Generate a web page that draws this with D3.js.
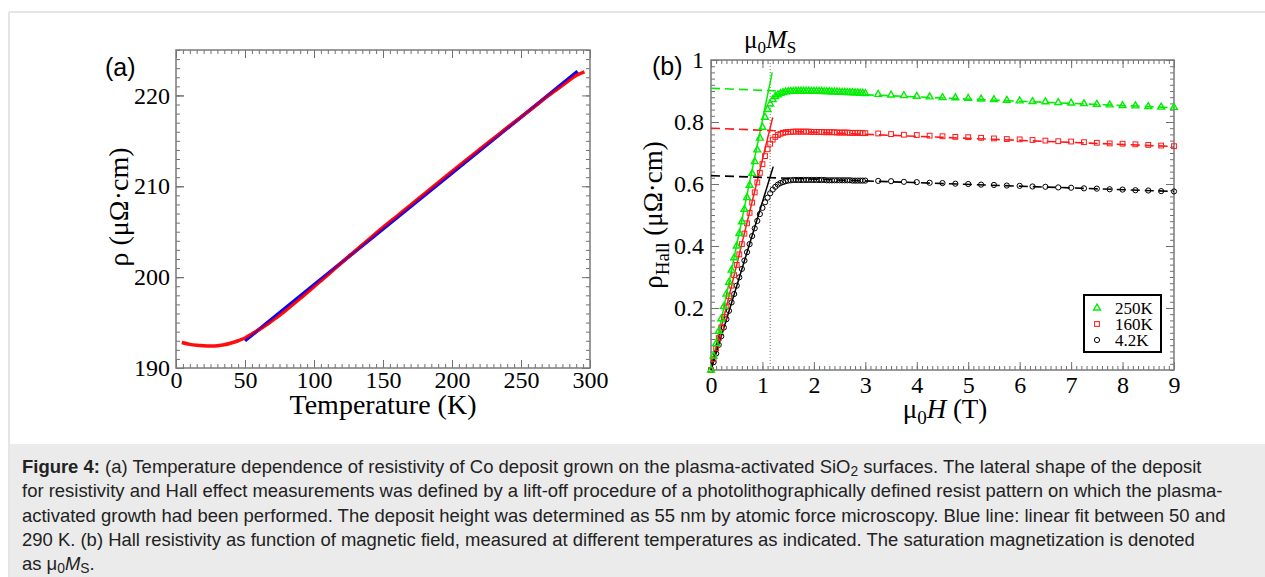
<!DOCTYPE html>
<html><head><meta charset="utf-8">
<script src="https://cdn.jsdelivr.net/npm/d3@7"></script>
<style>body{margin:0;background:#fff;} svg{display:block;}</style>
</head><body>
<script>
// ---------- Panel (a) data ----------
const tempK   = [4.2,10,15,20,25,30,35,40,45,50,55,60,65,70,75,80,90,100,110,120,130,140,150,160,170,180,190,200,210,220,230,240,250,260,270,280,290,296];
const rhoMeas = [192.8,192.6,192.5,192.45,192.43,192.45,192.55,192.75,193.0,193.3,193.75,194.2,194.7,195.25,195.8,196.4,197.65,198.95,200.25,201.6,202.9,204.2,205.47,206.7,207.93,209.17,210.4,211.63,212.85,214.05,215.25,216.45,217.62,218.8,220.0,221.1,222.2,222.6];
const fitT    = [50, 291];
const fitRho  = [193.0, 222.65];
const xTicksA = [0,50,100,150,200,250,300];
const yTicksA = [190,200,210,220];

// ---------- Panel (b) data ----------
const fieldLow  = [0,0.05,0.1,0.15,0.2,0.25,0.3,0.35,0.4,0.45,0.5,0.55,0.6,0.65,0.7,0.75,0.8,0.85,0.9,0.95,1.0];
const fieldKnee = [1.05,1.1,1.15,1.2,1.25,1.3,1.35,1.4,1.45,1.5,1.55,1.6,1.65,1.7,1.75,1.8,1.85,1.9,1.95,2.0,2.05,2.1,2.15,2.2,2.25,2.3,2.35,2.4,2.45,2.5,2.55,2.6,2.65,2.7,2.75,2.8,2.85,2.9,2.95,3.0];
const fieldHigh = [3.25,3.5,3.75,4,4.25,4.5,4.75,5,5.25,5.5,5.75,6,6.25,6.5,6.75,7,7.25,7.5,7.75,8,8.25,8.5,8.75,9];

const g250Low  = [0,0.045,0.085,0.125,0.165,0.205,0.245,0.283,0.322,0.362,0.4,0.44,0.478,0.518,0.556,0.596,0.634,0.672,0.71,0.748,0.783];
const g250Knee = [0.815,0.84,0.858,0.872,0.882,0.888,0.892,0.895,0.897,0.898,0.899,0.899,0.9,0.9,0.9,0.9,0.9,0.9,0.899,0.899,0.899,0.899,0.899,0.898,0.898,0.898,0.897,0.897,0.897,0.896,0.896,0.896,0.895,0.895,0.895,0.894,0.894,0.893,0.893,0.892];
const g250High = [0.889,0.887,0.885,0.883,0.881,0.879,0.878,0.876,0.874,0.872,0.870,0.868,0.866,0.865,0.863,0.861,0.859,0.857,0.855,0.853,0.852,0.850,0.848,0.847];

const r160Low  = [0,0.035,0.07,0.103,0.137,0.171,0.205,0.238,0.272,0.306,0.339,0.373,0.406,0.44,0.473,0.507,0.54,0.573,0.605,0.636,0.664];
const r160Knee = [0.69,0.712,0.73,0.743,0.752,0.758,0.762,0.765,0.767,0.768,0.768,0.769,0.769,0.769,0.769,0.769,0.769,0.769,0.768,0.768,0.768,0.768,0.768,0.767,0.767,0.767,0.767,0.767,0.766,0.766,0.766,0.766,0.766,0.765,0.765,0.765,0.765,0.765,0.764,0.764];
const r160High = [0.763,0.761,0.759,0.758,0.756,0.754,0.752,0.751,0.749,0.747,0.745,0.744,0.742,0.740,0.738,0.737,0.735,0.733,0.731,0.730,0.728,0.726,0.724,0.722];

const k42Low   = [0,0.025,0.053,0.081,0.109,0.137,0.164,0.191,0.218,0.245,0.272,0.299,0.326,0.353,0.38,0.406,0.432,0.457,0.481,0.503,0.523];
const k42Knee  = [0.541,0.556,0.57,0.582,0.591,0.598,0.603,0.606,0.609,0.611,0.612,0.613,0.613,0.613,0.613,0.613,0.613,0.613,0.613,0.613,0.613,0.613,0.613,0.613,0.612,0.612,0.612,0.612,0.612,0.612,0.612,0.612,0.612,0.612,0.611,0.611,0.611,0.611,0.611,0.611];
const k42High  = [0.610,0.609,0.607,0.606,0.604,0.603,0.601,0.600,0.598,0.597,0.595,0.594,0.592,0.591,0.589,0.588,0.586,0.585,0.583,0.582,0.580,0.579,0.577,0.576];

const linFitX   = [0, 1.19, 1.2, 1.21];
const linFit250 = [0, 0.96];
const linFit160 = [0, 0.815];
const linFit42  = [0, 0.656];
const satFitX   = [0, 9];
const satFit250 = [0.909, 0.846];
const satFit160 = [0.78, 0.721];
const satFit42  = [0.627, 0.576];
const muMs = 1.15;

const seriesNames = ["250K","160K","4.2K"];
const xTicksB = [0,1,2,3,4,5,6,7,8,9];
const yTicksB = [0.2,0.4,0.6,0.8,1];

// ---------- setup ----------
const W = 1265, H = 577;
const svg = d3.select("body").append("svg").attr("width", W).attr("height", H);
const serif = "'Liberation Serif','Times New Roman',serif";
const sans = "'Liberation Sans',Arial,sans-serif";

// figure border and caption box
svg.append("line").attr("x1",9).attr("y1",12).attr("x2",W).attr("y2",12).attr("stroke","#dcdcdc").attr("stroke-width",1.5);
svg.append("line").attr("x1",9).attr("y1",12).attr("x2",9).attr("y2",H).attr("stroke","#dcdcdc").attr("stroke-width",1.5);
svg.append("rect").attr("x",9.75).attr("y",444).attr("width",W-9.75).attr("height",H-444).attr("fill","#ebebeb");

function drawFrame(x, y, xMajor, xMinor, yMajor, yMinor, xFmt, yFmt, xPad, yPad, yTickVals) {
  const [x0,x1] = x.range(), [y0,y1] = y.range(); // y0 bottom, y1 top
  const g = svg.append("g");
  const tc = "#707070";
  const mk = (axis, tr) => {
    const a = g.append("g").attr("transform", tr).call(axis);
    a.select(".domain").remove();
    a.selectAll(".tick line").attr("stroke", tc).attr("stroke-width", 1);
    return a;
  };
  mk(d3.axisBottom(x).tickValues(xMajor).tickSize(-8).tickPadding(xPad).tickFormat(xFmt), `translate(0,${y0})`);
  mk(d3.axisBottom(x).tickValues(xMinor).tickSize(-4).tickFormat(""), `translate(0,${y0})`);
  mk(d3.axisTop(x).tickValues(xMajor).tickSize(-8).tickFormat(""), `translate(0,${y1})`);
  mk(d3.axisTop(x).tickValues(xMinor).tickSize(-4).tickFormat(""), `translate(0,${y1})`);
  mk(d3.axisLeft(y).tickValues(yTickVals).tickSize(-8).tickPadding(yPad).tickFormat(yFmt), `translate(${x0},0)`);
  mk(d3.axisLeft(y).tickValues(yMajor).tickSize(-8).tickFormat(""), `translate(${x0},0)`);
  mk(d3.axisLeft(y).tickValues(yMinor).tickSize(-4).tickFormat(""), `translate(${x0},0)`);
  mk(d3.axisRight(y).tickValues(yMajor).tickSize(-8).tickFormat(""), `translate(${x1},0)`);
  mk(d3.axisRight(y).tickValues(yMinor).tickSize(-4).tickFormat(""), `translate(${x1},0)`);
  g.selectAll("text").attr("font-family", serif).attr("font-size", 24).attr("fill", "#000");
  g.append("rect").attr("x", x0).attr("y", y1).attr("width", x1-x0).attr("height", y0-y1)
    .attr("fill","none").attr("stroke","#7a7a7a").attr("stroke-width",1.5);
  return g;
}

// ---------- Panel (a) ----------
const xA = d3.scaleLinear().domain([0,300]).range([176,590]);
const yA = d3.scaleLinear().domain([190,225]).range([368,50]);
drawFrame(xA, yA, xTicksA, d3.range(0,301,5), yTicksA, d3.range(190,226,1),
  d3.format("d"), d3.format("d"), 3, 6, yTicksA);

const lineA = d3.line().x(d=>xA(d[0])).y(d=>yA(d[1])).curve(d3.curveCatmullRom);
const fitLineA = d3.line().x(d=>xA(d[0])).y(d=>yA(d[1]));
const fitPts = fitT.map((t,i)=>[t,fitRho[i]]);
svg.append("path").datum(fitPts).attr("d", fitLineA).attr("fill","none").attr("stroke","#0000ff").attr("stroke-width",3.5);
svg.append("path").datum(tempK.map((t,i)=>[t,rhoMeas[i]]))
  .attr("d", lineA).attr("fill","none").attr("stroke","#ff0000").attr("stroke-width",3.5).attr("stroke-opacity",0.95);
svg.append("path").datum(fitPts).attr("d", fitLineA).attr("fill","none").attr("stroke","#0000ff").attr("stroke-width",1.6).attr("stroke-opacity",0.55);

svg.append("text").attr("x",383).attr("y",414).attr("text-anchor","middle")
  .attr("font-family",serif).attr("font-size",28).text("Temperature (K)");
svg.append("text").attr("transform","translate(128,207) rotate(-90)").attr("text-anchor","middle")
  .attr("font-family",serif).attr("font-size",28).text("ρ (μΩ·cm)");
svg.append("text").attr("x",105).attr("y",76).attr("font-family",sans).attr("font-size",25).text("(a)");

// ---------- Panel (b) ----------
const xB = d3.scaleLinear().domain([0,9]).range([711,1174]);
const yB = d3.scaleLinear().domain([0,1]).range([370,60]);
drawFrame(xB, yB, xTicksB, d3.range(0,9.001,0.1), yTicksB, d3.range(0,1.001,0.02),
  d3.format("d"), d=> d===1 ? "1" : d.toFixed(1), 6, 7, yTicksB);

// Ms dotted line
svg.append("line").attr("x1",xB(muMs)).attr("x2",xB(muMs)).attr("y1",yB(0)).attr("y2",yB(1))
  .attr("stroke","#777").attr("stroke-width",1).attr("stroke-dasharray","1,2");

const colors = ["#00ee00","#ff1a1a","#000000"];
const fits = [linFit250, linFit160, linFit42];
const fitEndX = [linFitX[1], linFitX[2], linFitX[3]];
const sats = [satFit250, satFit160, satFit42];
const low = [g250Low, r160Low, k42Low], knee = [g250Knee, r160Knee, k42Knee], high = [g250High, r160High, k42High];
const straight = d3.line().x(d=>xB(d[0])).y(d=>yB(d[1]));

for (let s = 0; s < 3; s++) {
  svg.append("path").datum(satFitX.map((x,i)=>[x,sats[s][i]])).attr("d",straight)
    .attr("fill","none").attr("stroke",colors[s]).attr("stroke-width",1.6).attr("stroke-dasharray","9,5");
  svg.append("path").datum([[linFitX[0],fits[s][0]],[fitEndX[s],fits[s][1]]]).attr("d",straight)
    .attr("fill","none").attr("stroke",colors[s]).attr("stroke-width",1.5);
}

function marker(sel, s) {
  if (s === 0) {
    sel.append("path").attr("d", d3.symbol(d3.symbolTriangle).size(20)()).attr("fill","none").attr("stroke",colors[0]).attr("stroke-width",1.4);
  } else if (s === 1) {
    sel.append("rect").attr("x",-2.4).attr("y",-2.4).attr("width",4.8).attr("height",4.8).attr("fill","none").attr("stroke",colors[1]).attr("stroke-width",1);
  } else {
    sel.append("circle").attr("r",2.6).attr("fill","none").attr("stroke",colors[2]).attr("stroke-width",1);
  }
}

for (let s = 2; s >= 0; s--) {
  const pts = fieldLow.map((x,i)=>[x,low[s][i]])
    .concat(fieldKnee.map((x,i)=>[x,knee[s][i]]))
    .concat(fieldHigh.map((x,i)=>[x,high[s][i]]));
  svg.append("g").selectAll("g").data(pts).join("g")
    .attr("transform", d=>`translate(${xB(d[0])},${yB(d[1])})`)
    .each(function(){ marker(d3.select(this), s); });
}

// legend
const leg = svg.append("g");
leg.append("rect").attr("x",1084).attr("y",295).attr("width",77).attr("height",57).attr("fill","#fff").attr("stroke","#000").attr("stroke-width",2);
seriesNames.forEach((nm,i)=>{
  const yy = 308 + i*16;
  const m = leg.append("g").attr("transform",`translate(1097,${yy})`);
  marker(m, i);
  leg.append("text").attr("x",1115).attr("y",yy).attr("dy","0.35em").attr("font-family",serif).attr("font-size",17).text(nm);
});

// axis titles (b)
const xt = svg.append("text").attr("x",945).attr("y",418).attr("text-anchor","middle").attr("font-family",serif).attr("font-size",27);
xt.append("tspan").text("μ");
xt.append("tspan").attr("font-size",19).attr("dy",6).text("0");
xt.append("tspan").attr("dy",-6).attr("font-style","italic").text("H");
xt.append("tspan").text(" (T)");

const yt = svg.append("text").attr("transform","translate(662,215) rotate(-90)").attr("text-anchor","middle").attr("font-family",serif).attr("font-size",27);
yt.append("tspan").text("ρ");
yt.append("tspan").attr("font-size",19).attr("dy",7).text("Hall");
yt.append("tspan").attr("dy",-7).text(" (μΩ·cm)");

svg.append("text").attr("x",652).attr("y",75).attr("font-family",sans).attr("font-size",25).text("(b)");

const mt = svg.append("text").attr("x",744).attr("y",48).attr("font-family",serif).attr("font-size",25);
mt.append("tspan").text("μ");
mt.append("tspan").attr("font-size",17).attr("dy",5).text("0");
mt.append("tspan").attr("dy",-5).attr("font-style","italic").text("M");
mt.append("tspan").attr("font-size",17).attr("dy",5).text("S");

// ---------- caption ----------
const capLines = [
  [["b","Figure 4:"],["n"," (a) Temperature dependence of resistivity of Co deposit grown on the plasma-activated SiO"],["sub","2"],["n"," surfaces. The lateral shape of the deposit"]],
  [["n","for resistivity and Hall effect measurements was defined by a lift-off procedure of a photolithographically defined resist pattern on which the plasma-"]],
  [["n","activated growth had been performed. The deposit height was determined as 55 nm by atomic force microscopy. Blue line: linear fit between 50 and"]],
  [["n","290 K. (b) Hall resistivity as function of magnetic field, measured at different temperatures as indicated. The saturation magnetization is denoted"]],
  [["n","as μ"],["sub","0"],["i","M"],["sub","S"],["n","."]]
];
const capG = svg.append("g").attr("font-family",sans).attr("fill","#222");
const capTexts = capLines.map((parts,li)=>{
  const t = capG.append("text").attr("x",22).attr("y",473 + li*24.3).attr("font-size",15);
  let prevSub = false;
  parts.forEach(([k,s])=>{
    const sp = t.append("tspan").text(s);
    if (k==="b") sp.attr("font-weight","bold");
    if (k==="i") sp.attr("font-style","italic");
    if (k==="sub") { sp.attr("font-size","0.75em"); if (!prevSub) sp.attr("dy",3); prevSub = true; }
    else { if (prevSub) sp.attr("dy",-3); prevSub = false; }
  });
  return t;
});
const target = 1180;
const len0 = capTexts[0].node().getComputedTextLength();
const fs = 15 * target / len0;
capTexts.forEach(t=>t.attr("font-size",fs));
</script>
</body></html>
